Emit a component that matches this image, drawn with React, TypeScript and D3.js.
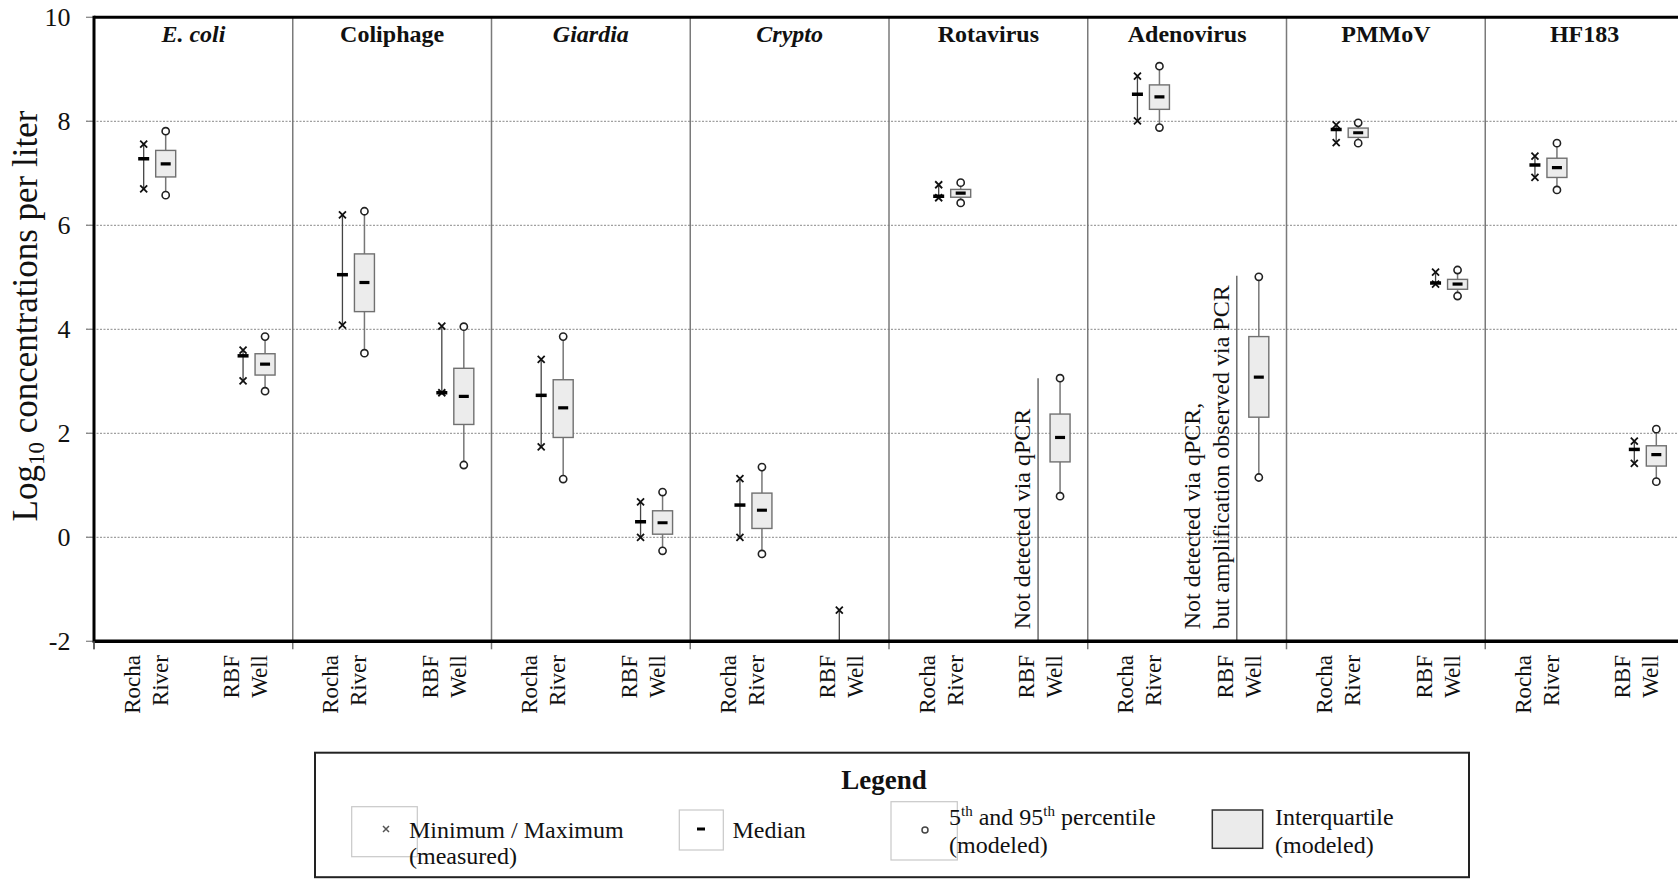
import React from "react";
import * as d3 from "d3";

// Organisms shown as panels, left to right
const organisms = ["E. coli", "Coliphage", "Giardia", "Crypto", "Rotavirus", "Adenovirus", "PMMoV", "HF183"];
const italicOrganisms = ["E. coli", "Giardia", "Crypto"];

// Sampling sites inside each panel (two-line rotated labels)
const sites = ["river", "well"];
const siteLabels = [["Rocha", "River"], ["RBF", "Well"]];

// Measured values (log10 per liter): minimum, median, maximum
const riverMin = [6.70, 4.08, 1.74, 0.00, 6.53, 8.01, 7.59, 6.92];
const riverMedian = [7.28, 5.05, 2.73, 0.62, 6.56, 8.52, 7.84, 7.16];
const riverMax = [7.56, 6.20, 3.42, 1.13, 6.78, 8.87, 7.93, 7.33];
const wellMin = [3.01, 2.78, 0.00, -2.5, null, null, 4.87, 1.42];
const wellMedian = [3.49, 2.78, 0.30, null, null, null, 4.89, 1.69];
const wellMax = [3.60, 4.06, 0.68, -1.40, null, null, 5.10, 1.85];

// Modeled values: 5th percentile, lower quartile, median, upper quartile, 95th percentile
const riverP5 = [6.58, 3.54, 1.12, -0.32, 6.43, 7.88, 7.58, 6.68];
const riverQ1 = [6.93, 4.34, 1.92, 0.17, 6.54, 8.23, 7.69, 6.92];
const riverQ2 = [7.18, 4.90, 2.49, 0.52, 6.62, 8.47, 7.78, 7.11];
const riverQ3 = [7.44, 5.45, 3.03, 0.85, 6.69, 8.70, 7.87, 7.29];
const riverP95 = [7.81, 6.27, 3.86, 1.35, 6.82, 9.06, 7.97, 7.58];
const wellP5 = [2.81, 1.39, -0.26, null, 0.79, 1.15, 4.64, 1.07];
const wellQ1 = [3.12, 2.17, 0.06, null, 1.45, 2.31, 4.77, 1.37];
const wellQ2 = [3.33, 2.71, 0.28, null, 1.92, 3.08, 4.87, 1.59];
const wellQ3 = [3.53, 3.25, 0.51, null, 2.37, 3.86, 4.96, 1.76];
const wellP95 = [3.86, 4.05, 0.87, null, 3.06, 5.01, 5.14, 2.08];

// Notes for well samples without measured detections
const noteOrganisms = ["Rotavirus", "Adenovirus"];
const noteLines = [["Not detected via qPCR"], ["Not detected via qPCR,", "but amplification observed via PCR"]];
const noteTop = [3.06, 5.03];

const yTicks = [-2, 0, 2, 4, 6, 8, 10];

const FONT = "'Liberation Serif', 'Times New Roman', serif";
const PLOT_LEFT = 94;
const PLOT_RIGHT = 1684;
const PLOT_TOP = 17.3;
const PLOT_BOTTOM = 641.3;
const BOX_OFFSET = 22;
const BOX_W = 20;

type Measured = { org: string; s: string; min: number | null; med: number | null; max: number | null };
type Modeled = { org: string; s: string; p5: number; q1: number; q2: number; q3: number; p95: number };

const measured: Measured[] = [
  ...organisms.map((org, i) => ({ org, s: "river", min: riverMin[i], med: riverMedian[i], max: riverMax[i] })),
  ...organisms.map((org, i) => ({ org, s: "well", min: wellMin[i], med: wellMedian[i], max: wellMax[i] })),
].filter((d) => d.max !== null);

const modeled: Modeled[] = [
  ...organisms.map((org, i) => ({ org, s: "river", p5: riverP5[i], q1: riverQ1[i], q2: riverQ2[i], q3: riverQ3[i], p95: riverP95[i] })),
  ...organisms.map((org, i) => ({ org, s: "well", p5: wellP5[i], q1: wellQ1[i], q2: wellQ2[i], q3: wellQ3[i], p95: wellP95[i] })),
].filter((d) => d.q2 !== null) as Modeled[];

const crossPath = "M-3.5,-3.5L3.5,3.5M-3.5,3.5L3.5,-3.5";

export default function App() {
  const x = d3.scaleBand<string>().domain(organisms).range([PLOT_LEFT, PLOT_RIGHT]).padding(0);
  const site = d3.scalePoint<string>().domain(sites).range([0, x.bandwidth()]).padding(0.5);
  const y = d3.scaleLinear().domain([-2, 10]).range([PLOT_BOTTOM, PLOT_TOP]);
  const cx = (org: string, s: string) => (x(org) as number) + (site(s) as number);

  return (
    <svg
      width={1678}
      height={879}
      style={{ position: "absolute", left: 0, top: 0, background: "#fff" }}
      fontFamily={FONT}
    >
      <defs>
        <clipPath id="plotClip">
          <rect x={PLOT_LEFT} y={PLOT_TOP} width={PLOT_RIGHT - PLOT_LEFT} height={PLOT_BOTTOM - PLOT_TOP} />
        </clipPath>
      </defs>

      {/* horizontal gridlines and y ticks */}
      {yTicks.map((t) => (
        <g key={"g" + t}>
          {t > -2 && t < 10 && (
            <line x1={86} x2={PLOT_RIGHT} y1={y(t)} y2={y(t)} stroke="#a0a0a0" strokeWidth={1.3} strokeDasharray="2 1.5" />
          )}
          <line x1={86} x2={PLOT_LEFT} y1={y(t)} y2={y(t)} stroke="#888" strokeWidth={1.3} />
          <text x={70.5} y={y(t)} dy="0.34em" textAnchor="end" fontSize={26} fill="#111">
            {t}
          </text>
        </g>
      ))}

      {/* panel dividers with ticks below the axis */}
      {organisms.map((org, i) => (
        <g key={"d" + org}>
          {i > 0 && <line x1={x(org)} x2={x(org)} y1={PLOT_TOP} y2={PLOT_BOTTOM} stroke="#7a7a7a" strokeWidth={1.5} />}
          <line x1={x(org)} x2={x(org)} y1={PLOT_BOTTOM} y2={PLOT_BOTTOM + 8} stroke="#7a7a7a" strokeWidth={1.5} />
        </g>
      ))}

      {/* panel titles */}
      {organisms.map((org) => (
        <text
          key={"t" + org}
          x={(x(org) as number) + x.bandwidth() / 2}
          y={41.5}
          textAnchor="middle"
          fontSize={24}
          fontWeight="bold"
          fontStyle={italicOrganisms.includes(org) ? "italic" : "normal"}
          fill="#111"
        >
          {org}
        </text>
      ))}

      {/* notes for non-detects */}
      {noteOrganisms.map((org, i) => {
        const xc = cx(org, "well");
        const lines = noteLines[i];
        return (
          <g key={"n" + org}>
            <line x1={xc} x2={xc} y1={y(noteTop[i])} y2={PLOT_BOTTOM} stroke="#555" strokeWidth={1.3} />
            {lines.map((ln, j) => (
              <text
                key={j}
                transform={`translate(${xc - 8 - (lines.length - 1 - j) * 29},${PLOT_BOTTOM - 12}) rotate(-90)`}
                fontSize={24}
                fill="#111"
              >
                {ln}
              </text>
            ))}
          </g>
        );
      })}

      <g clipPath="url(#plotClip)">
        {/* measured range: min-max line, crosses, median dash */}
        {measured.map((d) => {
          const xc = cx(d.org, d.s);
          return (
            <g key={"m" + d.org + d.s}>
              <line x1={xc} x2={xc} y1={y(d.min as number)} y2={y(d.max as number)} stroke="#444" strokeWidth={1.3} />
              <path d={crossPath} transform={`translate(${xc},${y(d.max as number)})`} stroke="#111" strokeWidth={1.8} fill="none" />
              <path d={crossPath} transform={`translate(${xc},${y(d.min as number)})`} stroke="#111" strokeWidth={1.8} fill="none" />
              {d.med !== null && (
                <line x1={xc - 5.5} x2={xc + 5.5} y1={y(d.med)} y2={y(d.med)} stroke="#000" strokeWidth={3.5} />
              )}
            </g>
          );
        })}

        {/* modeled boxes */}
        {modeled.map((d) => {
          const xc = cx(d.org, d.s) + BOX_OFFSET;
          return (
            <g key={"b" + d.org + d.s}>
              <line x1={xc} x2={xc} y1={y(d.p5)} y2={y(d.q1)} stroke="#777" strokeWidth={1.5} />
              <line x1={xc} x2={xc} y1={y(d.q3)} y2={y(d.p95)} stroke="#777" strokeWidth={1.5} />
              <rect
                x={xc - BOX_W / 2}
                y={y(d.q3)}
                width={BOX_W}
                height={y(d.q1) - y(d.q3)}
                fill="#ececec"
                stroke="#707070"
                strokeWidth={1.4}
              />
              <line x1={xc - 5} x2={xc + 5} y1={y(d.q2)} y2={y(d.q2)} stroke="#000" strokeWidth={3.2} />
              <circle cx={xc} cy={y(d.p5)} r={3.6} fill="#fff" stroke="#222" strokeWidth={1.6} />
              <circle cx={xc} cy={y(d.p95)} r={3.6} fill="#fff" stroke="#222" strokeWidth={1.6} />
            </g>
          );
        })}
      </g>

      {/* axes frame */}
      <line x1={PLOT_LEFT} x2={PLOT_RIGHT} y1={PLOT_TOP} y2={PLOT_TOP} stroke="#000" strokeWidth={3} />
      <line x1={PLOT_LEFT} x2={PLOT_LEFT} y1={PLOT_TOP - 1.5} y2={PLOT_BOTTOM + 1.5} stroke="#000" strokeWidth={3} />
      <line x1={PLOT_LEFT} x2={PLOT_RIGHT} y1={PLOT_BOTTOM} y2={PLOT_BOTTOM} stroke="#000" strokeWidth={3.5} />
      <line x1={PLOT_LEFT} x2={PLOT_LEFT} y1={PLOT_BOTTOM} y2={PLOT_BOTTOM + 8} stroke="#555" strokeWidth={1.5} />

      {/* site labels */}
      {organisms.map((org) =>
        sites.map((s, si) =>
          siteLabels[si].map((ln, li) => (
            <text
              key={org + s + li}
              transform={`translate(${cx(org, s) - 4 + li * 28},655) rotate(-90)`}
              textAnchor="end"
              fontSize={23}
              fill="#111"
            >
              {ln}
            </text>
          ))
        )
      )}

      {/* y axis title */}
      <text transform="translate(37,316) rotate(-90)" textAnchor="middle" fontSize={35} fill="#111">
        Log
        <tspan fontSize={23} dy={7}>10</tspan>
        <tspan dy={-7}> concentrations per liter</tspan>
      </text>

      {/* legend */}
      <g>
        <rect x={315} y={752.7} width={1154} height={124.5} fill="#fff" stroke="#222" strokeWidth={2} />
        <text x={884} y={789} textAnchor="middle" fontSize={27} fontWeight="bold" fill="#111">
          Legend
        </text>

        <rect x={351.7} y={806.7} width={65.6} height={50} fill="#fff" stroke="#c8c8c8" strokeWidth={1.2} />
        <path d="M-3,-3L3,3M-3,3L3,-3" transform="translate(386,829)" stroke="#555" strokeWidth={1.5} fill="none" />
        <text x={409} y={838} fontSize={24} fill="#111">Minimum / Maximum</text>
        <text x={409} y={864} fontSize={24} fill="#111">(measured)</text>

        <rect x={679.3} y={810} width={44} height={40} fill="#fff" stroke="#c8c8c8" strokeWidth={1.2} />
        <line x1={697} x2={705} y1={829} y2={829} stroke="#000" strokeWidth={3} />
        <text x={732.5} y={838} fontSize={24} fill="#111">Median</text>

        <rect x={891} y={801.7} width={66.3} height={58.3} fill="#fff" stroke="#c8c8c8" strokeWidth={1.2} />
        <circle cx={925} cy={830} r={3} fill="#fff" stroke="#444" strokeWidth={1.5} />
        <text x={949} y={825} fontSize={24} fill="#111">
          5<tspan fontSize={15} dy={-9}>th</tspan>
          <tspan dy={9}> and 95</tspan>
          <tspan fontSize={15} dy={-9}>th</tspan>
          <tspan dy={9}> percentile</tspan>
        </text>
        <text x={949} y={853} fontSize={24} fill="#111">(modeled)</text>

        <rect x={1212.3} y={810} width={50.4} height={38.3} fill="#ebebeb" stroke="#333" strokeWidth={1.5} />
        <text x={1275} y={825} fontSize={24} fill="#111">Interquartile</text>
        <text x={1275} y={853} fontSize={24} fill="#111">(modeled)</text>
      </g>
    </svg>
  );
}
